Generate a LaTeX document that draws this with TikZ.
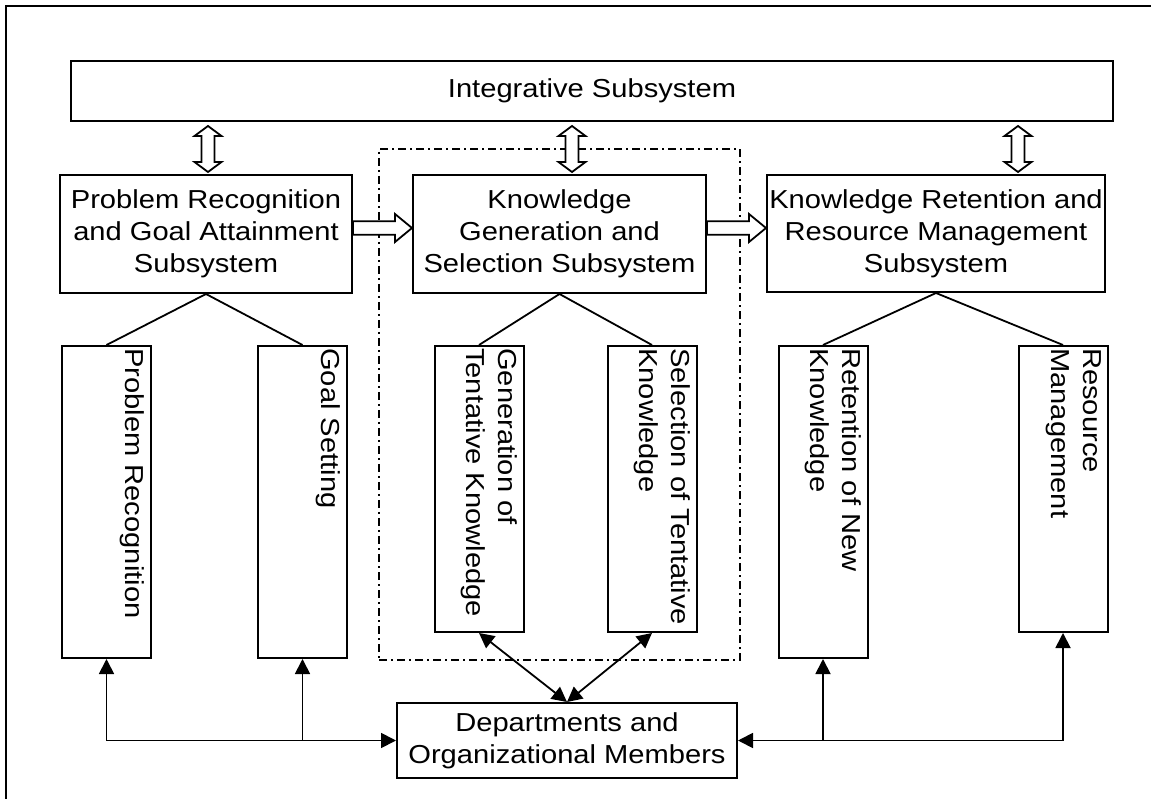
\documentclass[tikz,border=0pt]{standalone}
\usepackage{fontspec}
\setmainfont[FakeStretch=1.12]{Liberation Sans}
\usetikzlibrary{arrows.meta,calc}
\begin{document}
\begin{tikzpicture}[x=1pt,y=-1pt,
  txt/.style={font=\fontsize{26}{32}\selectfont},
  box/.style={draw, line width=2pt, inner sep=0pt, align=center, txt},
  vbox/.style={draw, line width=2pt, inner sep=0pt, minimum width=89pt},
  vtext/.style={rotate=-90, anchor=north west, align=left, inner xsep=3pt, inner ysep=7pt, txt},
  conn/.style={line width=1.8pt},
  arr/.style={line width=1.8pt, >={Triangle[length=15pt,width=15pt]}},
  hollow/.style={draw, line width=1.8pt, fill=white, line join=miter},
  dashdot/.style={draw, line width=1.5pt, dash pattern=on 8pt off 4pt on 2pt off 4pt}
]
\useasboundingbox (0,0) rectangle (1151,799);
\begin{scope}
  \clip (0,0) rectangle (1151,799);
  \draw[line width=2.8pt] (6,6) rectangle (1175,830);
\end{scope}

% group frame (dash-dot)
\node[dashdot, minimum width=361pt, minimum height=511pt] (grp) at (559.5,404.5) {};

% top box
\node[box, minimum width=1042pt, minimum height=60pt] (int) at (592,91) {Integrative Subsystem};

% subsystem boxes
\node[box, minimum width=292pt, minimum height=118pt] (prs) at (206,234)
  {Problem Recognition\\and Goal Attainment\\Subsystem};
\node[box, minimum width=293pt, minimum height=118pt] (kgs) at (559.5,234)
  {Knowledge\\Generation and\\Selection Subsystem};
\node[box, minimum width=338pt, minimum height=117pt] (krs) at (936,233.5)
  {Knowledge Retention and\\Resource Management\\Subsystem};

% lower boxes
\node[vbox, minimum height=312pt] (pr)  at (106.5,502) {};
\node[vbox, minimum height=312pt] (gs)  at (302.5,502) {};
\node[vbox, minimum height=286pt] (gen) at (479,489) {};
\node[vbox, minimum height=286pt] (sel) at (652,489) {};
\node[vbox, minimum height=312pt] (ret) at (823,502) {};
\node[vbox, minimum height=286pt] (res) at (1063,489) {};

\node[vtext] (prt)  at (pr.north east)  {Problem Recognition};
\node[vtext] (gst)  at (gs.north east)  {Goal Setting};
\node[vtext] (gent) at (gen.north east) {Generation of\\Tentative Knowledge};
\node[vtext] (selt) at (sel.north east) {Selection of Tentative\\Knowledge};
\node[vtext] (rett) at (ret.north east) {Retention of New\\Knowledge};
\node[vtext] (rest) at (res.north east) {Resource\\Management};

% departments
\node[box, minimum width=340pt, minimum height=75pt] (dept) at (567,740.5)
  {Departments and\\Organizational Members};

% tree lines
\draw[conn] (prs.south) -- (pr.north);
\draw[conn] (prs.south) -- (gs.north);
\draw[conn] (kgs.south) -- (gen.north);
\draw[conn] (kgs.south) -- (sel.north);
\draw[conn] (krs.south) -- (ret.north);
\draw[conn] (krs.south) -- (res.north);

% arrows to departments
\draw[arr,<->] (gen.south) -- (dept.north);
\draw[arr,<->] (sel.south) -- (dept.north);
\draw[arr,<->] (pr.south) -- (pr.south |- dept.west) -- (dept.west);
\draw[arr,->] (gs.south |- dept.west) -- (gs.south);
\draw[arr,<->] (res.south) -- (res.south |- dept.east) -- (dept.east);
\draw[arr,->] (ret.south |- dept.east) -- (ret.south);

% hollow double arrows (vertical)
\newcommand\hollowV[2]{%
  \draw[hollow] (#1) -- ++(13.5,10) -- ++(-7,0) -- ($(#2)+(6.5,-10)$) -- ++(7,0)
    -- (#2) -- ++(-13.5,-10) -- ++(7,0) -- ($(#1)+(-6.5,10)$) -- ++(-7,0) -- cycle;}
\coordinate (v1t) at (208,126);  \coordinate (v1b) at (208,172);
\coordinate (v2t) at (572,126);  \coordinate (v2b) at (572,172);
\coordinate (v3t) at (1018,126); \coordinate (v3b) at (1018,172);
\hollowV{v1t}{v1b}
\hollowV{v2t}{v2b}
\hollowV{v3t}{v3b}

% hollow single arrows (horizontal)
\newcommand\hollowH[2]{%
  \draw[hollow] ($(#1)+(0,-6.7)$) -- ($(#2)+(-17,-6.7)$) -- ++(0,-7.3) -- (#2)
    -- ++(-17,14) -- ++(0,-7.3) -- ($(#1)+(0,6.7)$) -- cycle;}
\coordinate (h1s) at (prs.east |- 0,228); \coordinate (h1e) at (412,228);
\coordinate (h2s) at (kgs.east |- 0,228); \coordinate (h2e) at (766,228);
\hollowH{h1s}{h1e}
\hollowH{h2s}{h2e}
\end{tikzpicture}
\end{document}
